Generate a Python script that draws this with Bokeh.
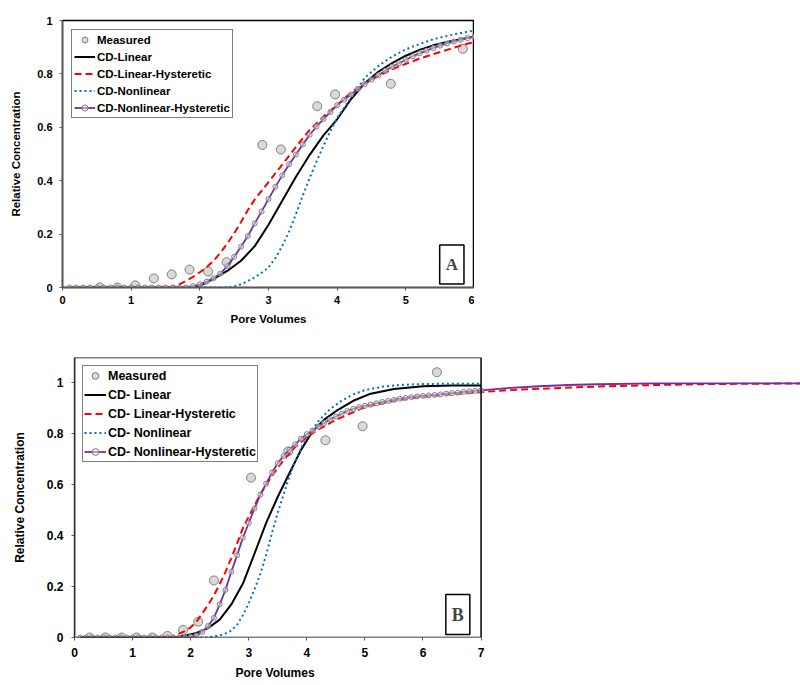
from bokeh.plotting import figure
from bokeh.models import (Range1d, FixedTicker, NumeralTickFormatter, Legend, LegendItem,
                          Label, BoxAnnotation, Title)
from bokeh.layouts import column
from bokeh.embed import file_html
from bokeh.resources import INLINE

FONT = "Liberation Sans"
SERIF = "Liberation Serif"

# ---------------- Panel A data ----------------
a_x_ticks = [0, 1, 2, 3, 4, 5, 6]
a_y_ticks = [0, 0.2, 0.4, 0.6, 0.8, 1]
a_labels = ["Measured", "CD-Linear", "CD-Linear-Hysteretic", "CD-Nonlinear", "CD-Nonlinear-Hysteretic"]

a_meas_x = [0.54, 0.80, 1.06, 1.33, 1.59, 1.85, 2.12, 2.39, 2.91, 3.18, 3.71, 3.97, 4.78, 5.83]
a_meas_y = [0.0, 0.0, 0.008, 0.034, 0.049, 0.067, 0.060, 0.095, 0.534, 0.517, 0.679, 0.723, 0.763, 0.894]

a_lin_x = [0.1, 1.9, 2.0, 2.2, 2.4, 2.6, 2.8, 3.0, 3.2, 3.4, 3.6, 3.8, 4.0, 4.2, 4.4, 4.6, 4.8, 5.0, 5.2, 5.4, 5.6, 5.8, 6.0]
a_lin_y = [0.0, 0.0, 0.006, 0.032, 0.062, 0.100, 0.155, 0.235, 0.325, 0.415, 0.497, 0.570, 0.630, 0.705, 0.765, 0.808, 0.840, 0.868, 0.890, 0.907, 0.920, 0.930, 0.940]

a_linh_x = [0.1, 1.55, 1.7, 1.8, 1.9, 2.0, 2.1, 2.2, 2.3, 2.4, 2.5, 2.6, 2.7, 2.8, 2.9, 3.0, 3.2, 3.4, 3.6, 3.8, 4.0, 4.2, 4.4, 4.6, 4.8, 5.0, 5.2, 5.4, 5.6, 5.8, 6.0]
a_linh_y = [0.0, 0.0, 0.012, 0.025, 0.040, 0.057, 0.076, 0.100, 0.130, 0.165, 0.203, 0.245, 0.290, 0.330, 0.362, 0.395, 0.460, 0.527, 0.590, 0.640, 0.684, 0.730, 0.763, 0.792, 0.817, 0.838, 0.857, 0.874, 0.890, 0.906, 0.920]

a_nl_x = [0.1, 2.4, 2.5, 2.6, 2.7, 2.8, 2.9, 3.0, 3.1, 3.2, 3.3, 3.4, 3.5, 3.6, 3.7, 3.8, 3.9, 4.0, 4.2, 4.4, 4.6, 4.8, 5.0, 5.2, 5.4, 5.6, 5.8, 6.0]
a_nl_y = [0.0, 0.0, 0.004, 0.012, 0.024, 0.038, 0.055, 0.075, 0.110, 0.155, 0.210, 0.275, 0.345, 0.410, 0.472, 0.530, 0.585, 0.635, 0.710, 0.785, 0.830, 0.865, 0.892, 0.912, 0.930, 0.942, 0.953, 0.963]

a_nlh_x = [0.1, 0.2, 0.3, 0.4, 0.5, 0.6, 0.7, 0.8, 0.9, 1.0, 1.1, 1.2, 1.3, 1.4, 1.5, 1.6, 1.7, 1.8,
           1.9, 2.0, 2.1, 2.2, 2.3, 2.4, 2.5, 2.6, 2.7, 2.8, 2.9, 3.0, 3.1, 3.2, 3.3, 3.4, 3.5, 3.6,
           3.7, 3.8, 3.9, 4.0, 4.1, 4.2, 4.3, 4.4, 4.5, 4.6, 4.7, 4.8, 4.9, 5.0, 5.1, 5.2, 5.3, 5.4,
           5.5, 5.6, 5.7, 5.8, 5.9, 6.0]
a_nlh_y = [0.0, 0.0, 0.0, 0.0, 0.0, 0.0, 0.0, 0.0, 0.0, 0.0, 0.0, 0.0, 0.0, 0.0, 0.0, 0.0, 0.0, 0.0,
           0.005, 0.012, 0.022, 0.035, 0.052, 0.080, 0.115, 0.153, 0.193, 0.240, 0.285, 0.331, 0.377, 0.420, 0.461, 0.498, 0.536, 0.572,
           0.603, 0.631, 0.657, 0.683, 0.703, 0.723, 0.744, 0.762, 0.779, 0.795, 0.812, 0.827, 0.840, 0.853, 0.866, 0.877, 0.887, 0.897,
           0.906, 0.914, 0.921, 0.928, 0.934, 0.940]

# ---------------- Panel B data ----------------
b_x_ticks = [0, 1, 2, 3, 4, 5, 6, 7]
b_y_ticks = [0, 0.2, 0.4, 0.6, 0.8, 1]
b_labels = ["Measured", "CD- Linear", "CD- Linear-Hysteretic", "CD- Nonlinear", "CD- Nonlinear-Hysteretic"]

b_meas_x = [0.26, 0.53, 0.81, 1.07, 1.34, 1.60, 1.87, 2.13, 2.40, 3.04, 3.68, 4.32, 4.96, 6.24]
b_meas_y = [0.0, 0.0, 0.0, 0.0, 0.0, 0.006, 0.030, 0.062, 0.224, 0.628, 0.731, 0.775, 0.830, 1.042]

b_lin_x = [0.1, 1.7, 1.9, 2.1, 2.3, 2.5, 2.7, 2.9, 3.1, 3.3, 3.5, 3.7, 3.9, 4.1, 4.3, 4.5, 4.8, 5.1, 5.5, 6.0, 6.5, 7.0]
b_lin_y = [0.0, 0.0, 0.007, 0.018, 0.037, 0.070, 0.130, 0.212, 0.330, 0.450, 0.553, 0.645, 0.737, 0.810, 0.856, 0.889, 0.930, 0.958, 0.976, 0.987, 0.990, 0.990]

b_linh_x = [0.1, 1.65, 1.8, 1.9, 2.0, 2.1, 2.2, 2.3, 2.4, 2.5, 2.6, 2.7, 2.8, 2.9, 3.0, 3.2, 3.4, 3.6, 3.8, 4.0, 4.2, 4.5,
            5.0, 5.5, 6.0, 6.5, 7.0, 7.5, 8.0, 9.0, 10.0, 11.0, 12.5]
b_linh_y = [0.0, 0.0, 0.015, 0.025, 0.040, 0.062, 0.095, 0.128, 0.165, 0.210, 0.258, 0.312, 0.370, 0.430, 0.475, 0.563, 0.635, 0.697, 0.748, 0.787, 0.817, 0.855,
            0.905, 0.930, 0.946, 0.956, 0.964, 0.972, 0.977, 0.986, 0.992, 0.996, 0.998]

b_nl_x = [0.1, 2.3, 2.5, 2.6, 2.7, 2.8, 2.9, 3.0, 3.1, 3.2, 3.3, 3.4, 3.5, 3.6, 3.7, 3.8, 3.9, 4.0, 4.2, 4.4, 4.6, 4.8, 5.0, 5.3, 5.6, 6.0, 6.5, 7.0]
b_nl_y = [0.0, 0.0, 0.008, 0.016, 0.027, 0.050, 0.088, 0.135, 0.190, 0.250, 0.325, 0.410, 0.490, 0.562, 0.632, 0.692, 0.743, 0.785, 0.850, 0.897, 0.930, 0.955, 0.972, 0.985, 0.992, 0.996, 0.997, 0.997]

b_nlh_x = [0.1, 0.2, 0.3, 0.4, 0.5, 0.6, 0.7, 0.8, 0.9, 1.0, 1.1, 1.2, 1.3, 1.4, 1.5, 1.6, 1.7, 1.8, 1.9,
           2.0, 2.1, 2.2, 2.3, 2.4, 2.5, 2.6, 2.7, 2.8, 2.9, 3.0, 3.1, 3.2, 3.3, 3.4, 3.5, 3.6, 3.7, 3.8, 3.9,
           4.0, 4.1, 4.2, 4.3, 4.4, 4.5, 4.6, 4.7, 4.8, 4.9, 5.0, 5.1, 5.2, 5.3, 5.4, 5.5, 5.6, 5.7, 5.8, 5.9,
           6.0, 6.1, 6.2, 6.3, 6.4, 6.5, 6.6, 6.7, 6.8, 6.9, 7.0]
b_nlh_y = [0.0, 0.0, 0.0, 0.0, 0.0, 0.0, 0.0, 0.0, 0.0, 0.0, 0.0, 0.0, 0.0, 0.0, 0.0, 0.0, 0.0, 0.0, 0.0,
           0.002, 0.008, 0.022, 0.045, 0.077, 0.130, 0.187, 0.258, 0.323, 0.392, 0.450, 0.507, 0.561, 0.604, 0.648, 0.685, 0.713, 0.738, 0.759, 0.781,
           0.799, 0.813, 0.829, 0.843, 0.857, 0.868, 0.879, 0.890, 0.898, 0.905, 0.910, 0.915, 0.920, 0.925, 0.929, 0.934, 0.938, 0.941, 0.944, 0.947,
           0.949, 0.951, 0.953, 0.955, 0.958, 0.960, 0.962, 0.965, 0.967, 0.969, 0.971]
# continuation of the nonlinear-hysteretic curve past the plot box (line only)
b_nlh_ext_x = [7.5, 8.0, 8.5, 9.0, 10.0, 11.0, 12.5]
b_nlh_ext_y = [0.981, 0.987, 0.992, 0.995, 0.998, 0.998, 0.998]

C_BLACK = "#000000"
C_RED = "#ff0000"
C_BLUE = "#0070c0"
C_PURPLE = "#7030a0"
AX_GREY = "#595959"


def style_axes(p, xt, yt, tick_fs, lab_fs, ylab_standoff, xlab_standoff, ystand, xstand):
    p.xaxis.ticker = FixedTicker(ticks=xt)
    p.yaxis.ticker = FixedTicker(ticks=yt)
    p.yaxis.formatter = NumeralTickFormatter(format="0.[0]")
    p.xaxis.formatter = NumeralTickFormatter(format="0")
    for ax in p.axis:
        ax.major_label_text_font = FONT
        ax.major_label_text_font_style = "bold"
        ax.major_label_text_font_size = tick_fs
        ax.major_label_text_color = "black"
        ax.axis_label_text_font = FONT
        ax.axis_label_text_font_style = "bold"
        ax.axis_label_text_font_size = lab_fs
        ax.axis_label_text_color = "black"
        ax.axis_line_color = AX_GREY
        ax.axis_line_width = 1.5
        ax.major_tick_line_color = AX_GREY
        ax.major_tick_out = 3
        ax.major_tick_in = 0
        ax.minor_tick_line_color = None
    p.yaxis.axis_label_standoff = ylab_standoff
    p.xaxis.axis_label_standoff = xlab_standoff
    p.yaxis.major_label_standoff = ystand
    p.xaxis.major_label_standoff = xstand
    p.grid.visible = False


def add_series(p, mx, my, lx, ly, hx, hy, nx, ny, px, py, pxl, pyl, meas_size):
    r_meas = p.scatter(mx, my, size=meas_size, marker="circle", fill_color="#d9d9d9",
                       line_color="#7f7f7f", line_width=1)
    r_lin = p.line(lx, ly, line_color=C_BLACK, line_width=2)
    r_linh = p.line(hx, hy, line_color=C_RED, line_width=2, line_dash="7 4")
    r_nl = p.line(nx, ny, line_color=C_BLUE, line_width=2, line_dash="2 3")
    r_nlh = p.line(pxl, pyl, line_color=C_PURPLE, line_width=1.8)
    r_nlh_pts = p.scatter(px, py, size=5, marker="circle", fill_color="#e8e8e8", fill_alpha=0.5,
                          line_color="#808080", line_width=1)
    return [[r_meas], [r_lin], [r_linh], [r_nl], [r_nlh, r_nlh_pts]]


def add_legend(p, groups, labels, fs, lh, margin, padding, gw):
    items = [LegendItem(label=lab, renderers=g) for lab, g in zip(labels, groups)]
    leg = Legend(items=items, location="top_left", margin=margin, padding=padding,
                 spacing=2, label_height=lh, glyph_height=lh, glyph_width=gw,
                 label_standoff=2, label_text_font=FONT, label_text_font_style="bold",
                 label_text_font_size=fs, label_text_color="black",
                 border_line_color="black", border_line_width=1,
                 background_fill_color="white", background_fill_alpha=1)
    p.add_layout(leg)


# ---------------- Panel A ----------------
pA = figure(frame_width=412, frame_height=267, x_range=Range1d(0, 6), y_range=Range1d(0, 1),
            output_backend="svg", toolbar_location=None,
            min_border_left=70, min_border_right=0, min_border_top=20, min_border_bottom=56,
            x_axis_label="Pore Volumes", y_axis_label="Relative Concentration",
            margin=(0, 0, 0, -8))
pA.outline_line_color = "black"
pA.outline_line_width = 1.5
pA.outline_line_alpha = 1
style_axes(pA, a_x_ticks, a_y_ticks, "11px", "11.5px", 12, 6, 7, 5)
gA = add_series(pA, a_meas_x, a_meas_y, a_lin_x, a_lin_y, a_linh_x, a_linh_y, a_nl_x, a_nl_y,
                a_nlh_x, a_nlh_y, a_nlh_x, a_nlh_y, 9)
add_legend(pA, gA, a_labels, "11.5px", 15, 9, 2, 21)
pA.add_layout(Label(x=5.67, y=0.086, text="A", text_font=SERIF, text_font_style="bold",
                    text_font_size="17px", text_align="center", text_baseline="middle",
                    background_fill_color="white", border_line_color="black",
                    border_line_width=1.5, padding=(6, 10)))

# ---------------- Panel B ----------------
pB = figure(frame_width=726, frame_height=280, x_range=Range1d(0, 12.5), y_range=Range1d(0, 1.1),
            output_backend="svg", toolbar_location=None,
            min_border_left=70, min_border_right=0, min_border_top=14, min_border_bottom=48,
            y_axis_label="Relative Concentration", margin=(0, 0, 0, 4))
pB.outline_line_color = None
style_axes(pB, b_x_ticks, b_y_ticks, "12px", "12px", 17, 6, 8, 7)
pB.xaxis.axis_line_color = None
gB = add_series(pB, b_meas_x, b_meas_y, b_lin_x, b_lin_y, b_linh_x, b_linh_y, b_nl_x, b_nl_y,
                b_nlh_x, b_nlh_y, b_nlh_x + b_nlh_ext_x, b_nlh_y + b_nlh_ext_y, 9)
pB.add_layout(BoxAnnotation(left=0, right=7, bottom=0, top=1.1, fill_color=None,
                            line_color="black", line_width=1.5, line_alpha=1))
add_legend(pB, gB, b_labels, "12.5px", 17, 8, 1, 22)
pB.add_layout(Label(x=6.6, y=0.09, text="B", text_font=SERIF, text_font_style="bold",
                    text_font_size="18px", text_align="center", text_baseline="middle",
                    background_fill_color="white", border_line_color="black",
                    border_line_width=1.5, padding=(6, 10)))
pB.add_layout(Title(text="Pore Volumes", align="left", offset=161, standoff=8,
                    text_font=FONT, text_font_style="bold", text_font_size="12px",
                    text_color="black"), "below")

layout = column(pA, pB, spacing=0)

open("out.html", "w").write(file_html(layout, INLINE))
